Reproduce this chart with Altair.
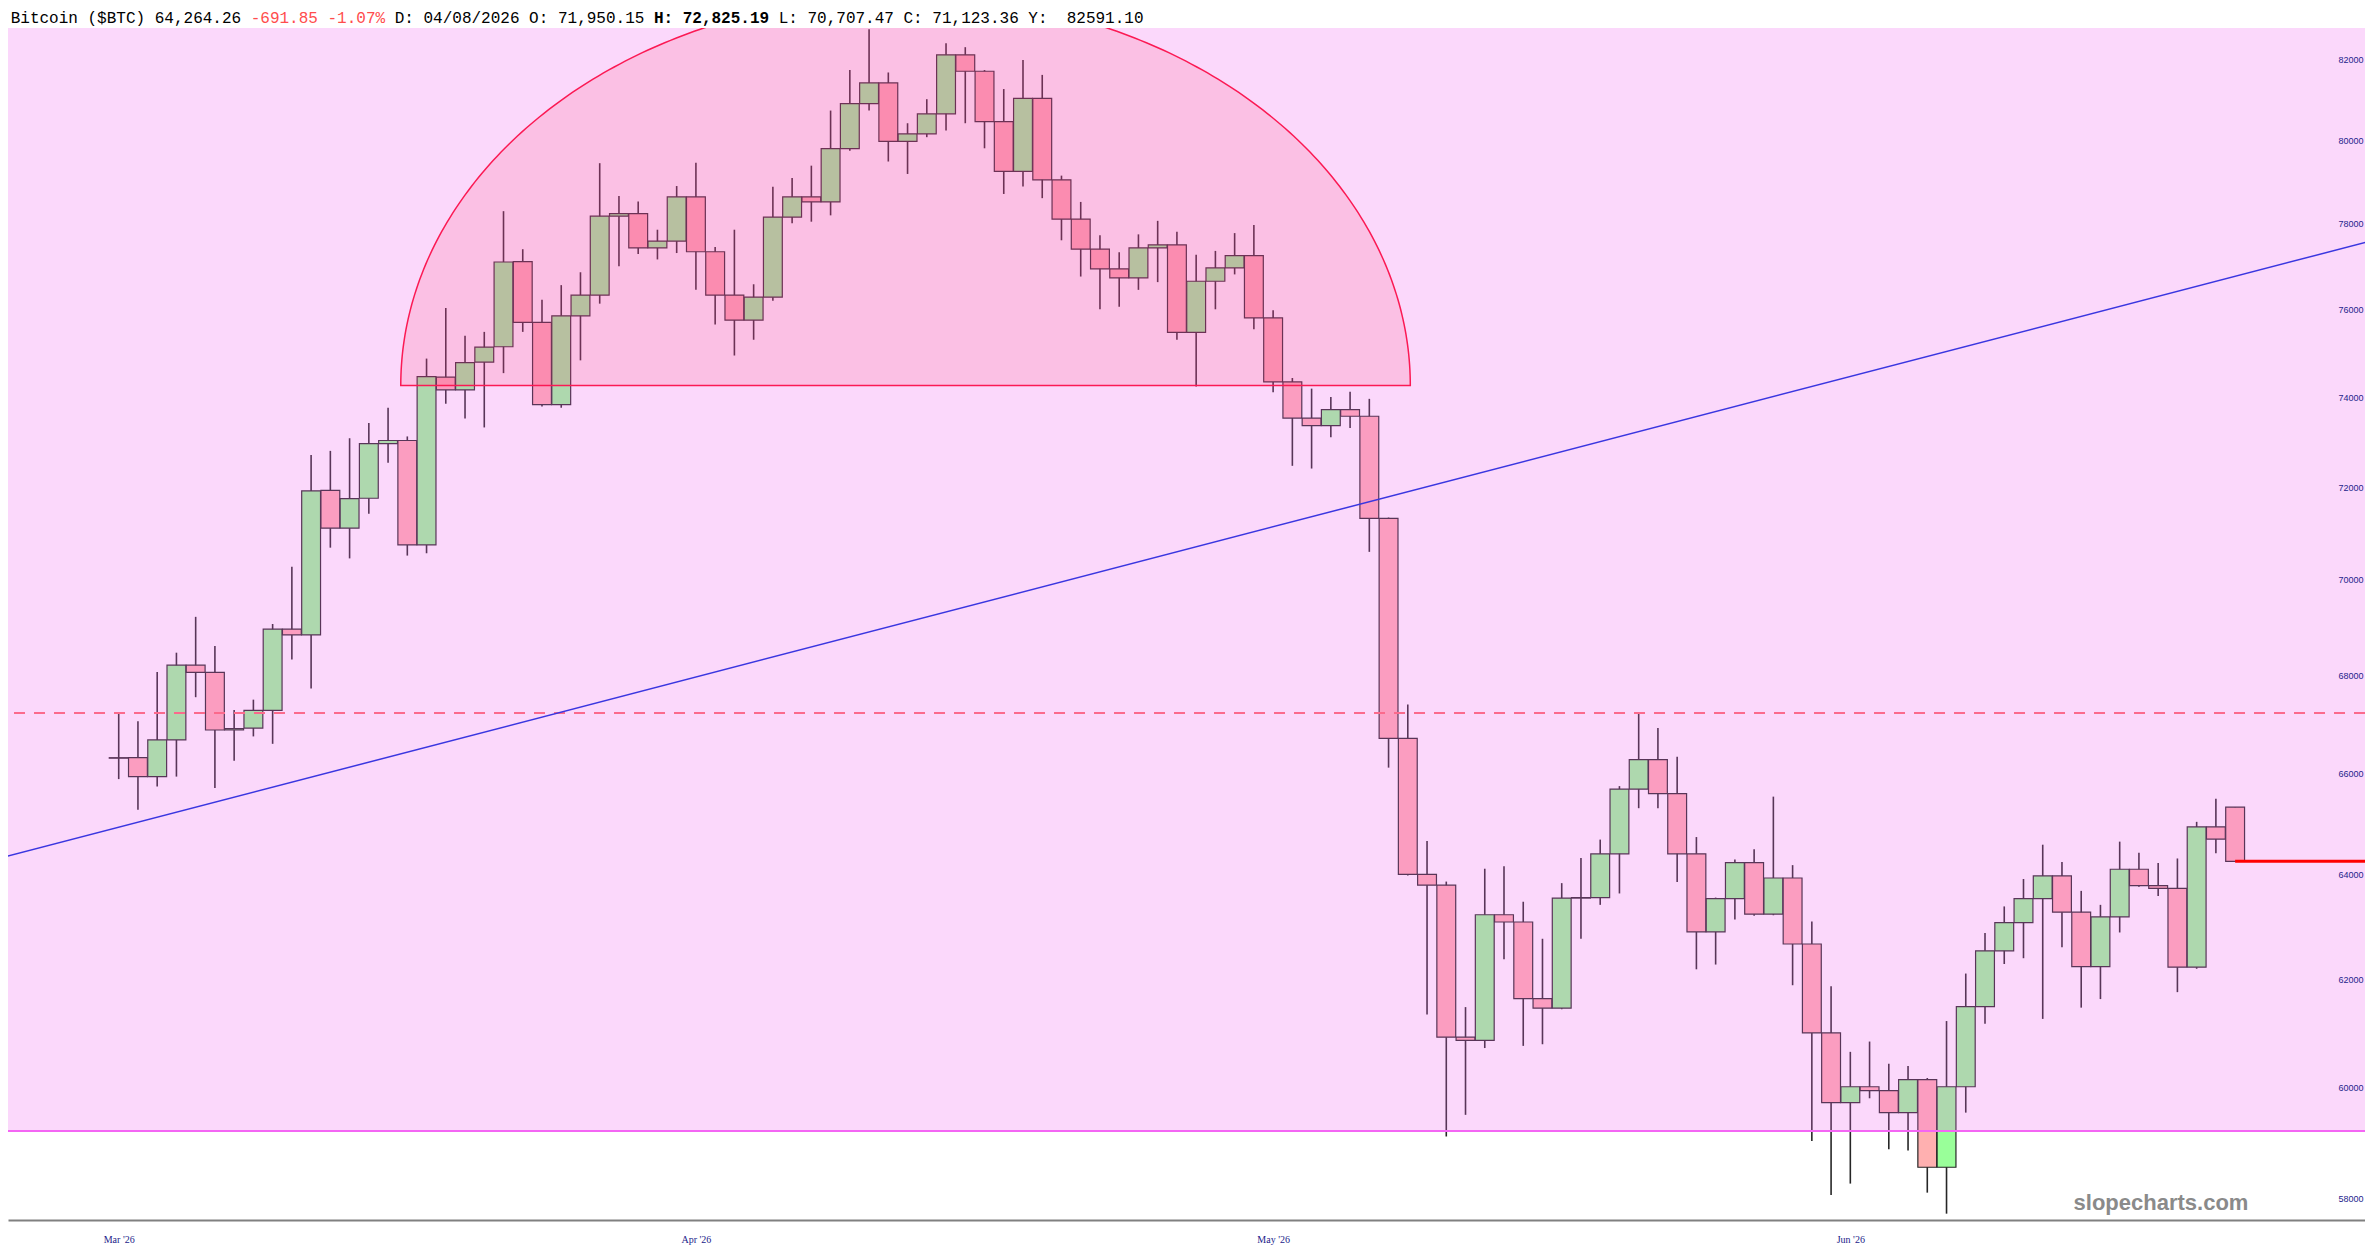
import json
import numpy as np
import pandas as pd
import altair as alt

# ---------------- data ----------------
OPEN = [66320, 66320, 65940, 66680, 68210, 68060, 66880, 66920, 67280, 68960,
        68840, 71930, 71110, 71760, 72960, 73030, 70750, 74450, 74160, 74790,
        75140, 77110, 75700, 73830, 75850, 76330, 78180, 78240, 77430, 77590,
        78640, 77340, 76330, 75750, 76280, 78160, 78640, 78520, 79800, 80900,
        81410, 79980, 80160, 80650, 82110, 81700, 80460, 79250, 81030, 79050,
        78110, 77400, 76940, 76730, 77430, 77500, 75470, 76650, 76960, 77250,
        75800, 74340, 73530, 73360, 73720, 73570, 71320, 66710, 64010, 63800,
        60920, 60860, 63230, 63090, 61640, 61460, 63550, 63560, 64410, 65690,
        66280, 65600, 64410, 62900, 63540, 64240, 63240, 63940, 62670, 61000,
        59720, 60010, 59940, 59540, 60140, 58560, 60010, 61490, 62540, 63080,
        63540, 63980, 63280, 62240, 63190, 64110, 63790, 63740, 62230, 64940,
        65330]
HIGH = [67230, 67060, 68070, 68470, 69220, 68610, 67290, 67500, 69070, 70280,
        72710, 72800, 73080, 73420, 73760, 73120, 74870, 76030, 75390, 75480,
        78300, 77400, 76220, 76560, 76860, 79450, 78660, 78530, 77860, 78900,
        79460, 77450, 77860, 76580, 78880, 79090, 79390, 80730, 81730, 82750,
        81670, 80420, 81010, 82400, 82300, 81730, 81260, 81980, 81610, 79150,
        78520, 77730, 77330, 77750, 78070, 77810, 77270, 77360, 77780, 77970,
        75980, 74430, 74190, 74000, 74120, 73960, 71340, 67400, 64660, 63870,
        61480, 64120, 64170, 63480, 62770, 63840, 64330, 64690, 65750, 67240,
        66920, 66340, 64740, 63560, 64300, 64500, 65540, 64190, 63100, 61870,
        60650, 60840, 60430, 60390, 60170, 61220, 62110, 62880, 63390, 63920,
        64590, 64250, 63690, 63420, 64650, 64430, 64230, 64320, 65040, 65500,
        65330]
LOW = [65890, 65280, 65740, 65940, 67550, 65710, 66260, 66750, 66600, 68330,
       67730, 70690, 70460, 71420, 72540, 70520, 70570, 73850, 73520, 73320,
       74540, 75480, 73790, 73760, 74830, 76130, 77000, 77290, 77160, 77310,
       76450, 75650, 74940, 75300, 76200, 78010, 78050, 78200, 79750, 80730,
       79490, 79190, 80080, 80240, 80420, 79810, 78710, 78890, 78610, 77610,
       76760, 76000, 76060, 76450, 76630, 75300, 74240, 76000, 76810, 75540,
       74110, 72470, 72410, 73100, 73310, 70600, 66120, 63990, 61340, 59110,
       59500, 60720, 62380, 60760, 60790, 61440, 62770, 63420, 63640, 65310,
       65310, 63860, 62190, 62280, 63140, 63210, 63220, 61890, 59030, 58070,
       58270, 59800, 58880, 58860, 58110, 57740, 59540, 61170, 62290, 62400,
       61260, 62610, 61470, 61630, 62890, 63770, 63590, 61760, 62200, 64420,
       64264.26]
CLOSE = [66310, 65940, 66680, 68210, 68060, 66880, 66910, 67280, 68960, 68840,
         71920, 71110, 71750, 72960, 73030, 70750, 74460, 74160, 74780, 75130,
         77100, 75700, 73830, 75850, 76330, 78180, 78240, 77430, 77590, 78640,
         77340, 76330, 75750, 76280, 78160, 78640, 78520, 79800, 80900, 81410,
         79980, 80160, 80650, 82110, 81700, 80460, 79250, 81030, 79050, 78110,
         77400, 76940, 76730, 77430, 77500, 75470, 76650, 76960, 77250, 75800,
         74340, 73530, 73360, 73720, 73570, 71320, 66710, 64010, 63800, 60920,
         60860, 63230, 63090, 61640, 61460, 63550, 63560, 64410, 65690, 66280,
         65600, 64410, 62900, 63540, 64240, 63240, 63940, 62670, 61000, 59720,
         60010, 59940, 59540, 60140, 58560, 60010, 61490, 62540, 63080, 63540,
         63980, 63280, 62240, 63190, 64110, 63790, 63740, 62230, 64940, 64700,
         64264.26]

MONTH_LABELS = ["Mar '26", "Apr '26", "May '26", "Jun '26"]
MONTH_INDEX = [0, 30, 60, 90]
Y_TICKS = [58000, 60000, 62000, 64000, 66000, 68000, 70000, 72000, 74000,
           76000, 78000, 80000, 82000]

SUPPORT = 59208          # magenta line / bottom of pink zone
RESISTANCE = 67225       # dashed line
LAST_PRICE = 64264.26
TREND_X = [-6.17, 117.17]
TREND_Y = [64326, 77607]
DOME_X = [14.66, 67.13]
DOME_BASE = 74263
DOME_APEX = 83603

HEADER = [
    ("Bitcoin ($BTC) 64,264.26", "#000000", "normal", 0),
    ("-691.85 -1.07%", "#ff4d4d", "normal", 25),
    ("D: 04/08/2026 O: 71,950.15", "#000000", "normal", 40),
    ("H: 72,825.19", "#000000", "bold", 67),
    ("L: 70,707.47 C: 71,123.36 Y:", "#000000", "normal", 80),
    ("82591.10", "#000000", "normal", 110),
]

# ---------------- layout ----------------
W, H = 2357, 1192
X_DOMAIN = [-5.754, 116.75]
Y_DOMAIN = [57629, 82781]

XS = alt.Scale(domain=X_DOMAIN, nice=False, zero=False)
YS = alt.Scale(type="log", domain=Y_DOMAIN, nice=False, zero=False)

AX_X = alt.Axis(
    values=MONTH_INDEX,
    labelExpr=f"{json.dumps(MONTH_LABELS)}[indexof({json.dumps(MONTH_INDEX)}, datum.value)]",
    title=None, grid=False, ticks=False, tickSize=0,
    domainColor="#808080", domainWidth=2,
    labelFont="Liberation Serif", labelFontSize=10, labelColor="#1c1c8a",
    labelPadding=19, labelBaseline="middle", labelAlign="center",
    labelFlush=False, labelOverlap=False,
)
AX_Y = alt.Axis(
    orient="right", values=Y_TICKS, format="d", title=None, grid=False,
    ticks=False, tickSize=0, domain=False, offset=-2, labelPadding=0,
    labelAlign="right", labelBaseline="middle", labelFont="Liberation Sans",
    labelFontSize=9, labelColor="#24248c", zindex=1,
    labelOverlap=False, labelFlush=False,
)


def X(field):
    return alt.X(field, type="quantitative", scale=XS, axis=AX_X)


def Y(field):
    return alt.Y(field, type="quantitative", scale=YS, axis=AX_Y)


candles = pd.DataFrame({
    "i": list(range(len(OPEN))),
    "open": OPEN, "high": HIGH, "low": LOW, "close": CLOSE,
})
candles["dir"] = np.where(candles["close"] >= candles["open"], "up", "down")

base = alt.Chart(candles).transform_calculate(
    x0="datum.i - 0.49", x1="datum.i + 0.49"
)

wicks = base.mark_rule(color="#000000", strokeWidth=1.6, opacity=0.85).encode(
    x=X("i"), y=Y("low"), y2="high"
)
bodies = base.mark_rect(stroke="#262626", strokeWidth=1.2).encode(
    x=X("x0"), x2="x1", y=Y("open"), y2="close",
    fill=alt.Fill("dir:N", scale=alt.Scale(domain=["up", "down"],
                                           range=["#99ff99", "#ffb0b0"]),
                  legend=None),
)

# dome annotation (half ellipse in screen space)
t = np.linspace(0, np.pi, 241)
cx = (DOME_X[0] + DOME_X[1]) / 2
ax_ = (DOME_X[1] - DOME_X[0]) / 2
lb, la = np.log(DOME_BASE), np.log(DOME_APEX)
dome_df = pd.DataFrame({
    "x": cx + ax_ * np.cos(t),
    "p": np.exp(lb + (la - lb) * np.sin(t)),
    "b": DOME_BASE,
})
dome = alt.Chart(dome_df).mark_area(
    fill="#ff000a", fillOpacity=0.127, stroke="#ff0020", strokeWidth=1.5,
    clip=True, interpolate="linear"
).encode(x=X("x"), y=Y("p"), y2="b")

band_df = pd.DataFrame({"x0": [X_DOMAIN[0]], "x1": [X_DOMAIN[1]],
                        "top": [Y_DOMAIN[1]], "bot": [SUPPORT]})
band = alt.Chart(band_df).mark_rect(fill="#f064f0", opacity=0.25, clip=True).encode(
    x=X("x0"), x2="x1", y=Y("top"), y2="bot"
)

support = alt.Chart(pd.DataFrame({"v": [SUPPORT]})).mark_rule(
    color="#f466f4", strokeWidth=2
).encode(y=Y("v"))

resist = alt.Chart(pd.DataFrame({"v": [RESISTANCE]})).mark_rule(
    color="#fb6a8c", strokeWidth=2, strokeDash=[11, 9]
).encode(y=Y("v"))

trend = alt.Chart(pd.DataFrame({"x": TREND_X, "y": TREND_Y})).mark_line(
    color="#3a36e0", strokeWidth=1.5, clip=True
).encode(x=X("x"), y=Y("y"))

last_df = pd.DataFrame({"x0": [len(OPEN) - 1], "x1": [X_DOMAIN[1]],
                        "v": [LAST_PRICE]})
last = alt.Chart(last_df).mark_rule(color="#ff0000", strokeWidth=3).encode(
    x=X("x0"), x2="x1", y=Y("v")
)

watermark = alt.Chart(pd.DataFrame({"t": ["slopecharts.com"]})).mark_text(
    font="Liberation Sans", fontSize=22, fontWeight="bold", color="#8a8a8a",
    align="center", baseline="middle"
).encode(text="t:N", x=alt.value(2153), y=alt.value(1175))

layers = [wicks, bodies, dome, band, support, resist, trend, last, watermark]

for text, color, weight, off in HEADER:
    layers.append(
        alt.Chart(pd.DataFrame({"t": [text]})).mark_text(
            font="Liberation Mono", fontSize=16, fontWeight=weight, color=color,
            align="left", baseline="middle"
        ).encode(text="t:N", x=alt.value(2.7 + off * 9.6), y=alt.value(-10))
    )

chart = alt.layer(*layers).properties(
    width=W, height=H, autosize="none",
    padding={"left": 0, "top": 20, "right": 0, "bottom": 25},
    background="#ffffff",
).configure_view(strokeWidth=0)

chart.save("out.html", embed_options={"renderer": "svg", "actions": False})
